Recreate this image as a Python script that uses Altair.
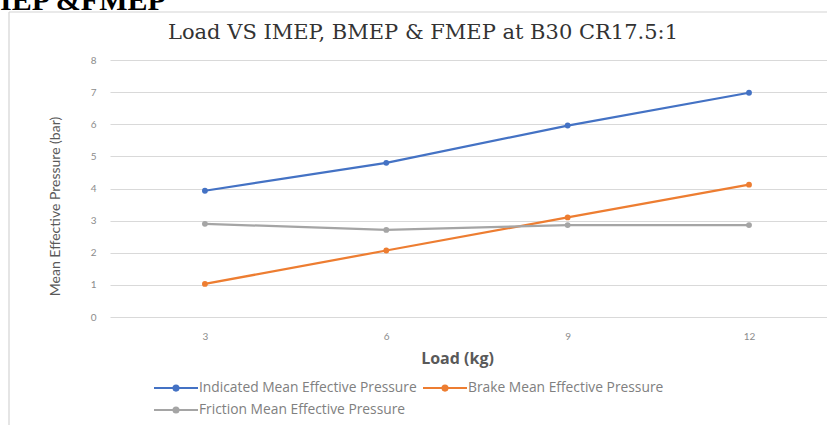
import altair as alt
import pandas as pd

# Engine test data: load on the brake drum vs. mean effective pressures
load_kg = [3, 6, 9, 12]
imep_bar = [3.93, 4.80, 5.96, 6.98]
bmep_bar = [1.03, 2.07, 3.10, 4.12]
fmep_bar = [2.90, 2.71, 2.86, 2.86]
y_ticks = [0, 1, 2, 3, 4, 5, 6, 7, 8]

series_names = [
    "Indicated Mean Effective Pressure",
    "Brake Mean Effective Pressure",
    "Friction Mean Effective Pressure",
]
series_colors = ["#4472C4", "#ED7D31", "#A5A5A5"]

chart_title = "Load VS IMEP, BMEP & FMEP at B30 CR17.5:1"
heading = "IEP &FMEP"

rows = []
for name, vals in zip(series_names, [imep_bar, bmep_bar, fmep_bar]):
    for x, v in zip(load_kg, vals):
        rows.append({"Load": x, "MEP": v, "Series": name})
df = pd.DataFrame(rows)

W, H = 717, 257
PAD = {"left": 110, "top": 60, "right": 0, "bottom": 108}
SANS = "Lato"
WIDE_SANS = "Open Sans"

# legend glyph: a line twice as wide as the symbol box with a dot at its middle
# (dot drawn as concentric rings so it takes the series stroke colour)
legend_glyph = (
    "M-1,0H3"
    "M0.95,0A0.05,0.05 0 1,0 1.05,0A0.05,0.05 0 1,0 0.95,0"
    "M0.86,0A0.14,0.14 0 1,0 1.14,0A0.14,0.14 0 1,0 0.86,0"
    "M0.77,0A0.23,0.23 0 1,0 1.23,0A0.23,0.23 0 1,0 0.77,0"
)

lines = (
    alt.Chart(df)
    .mark_line(strokeWidth=2.25, point=alt.OverlayMarkDef(filled=True, size=34))
    .encode(
        x=alt.X(
            "Load:Q",
            scale=alt.Scale(domain=[1.43, 13.29], nice=False, zero=False),
            axis=alt.Axis(
                values=load_kg,
                title="Load (kg)",
                grid=False,
                domain=False,
                ticks=False,
                labelPadding=14,
                labelFontSize=10,
                labelColor="#8c8c8c",
                labelFont=SANS,
                titleFont=WIDE_SANS,
                titleFontSize=16,
                titleFontWeight="bold",
                titleColor="#595959",
                titleX=347,
                titleY=41,
                titleAlign="center",
                titleBaseline="middle",
            ),
        ),
        y=alt.Y(
            "MEP:Q",
            scale=alt.Scale(domain=[0, 8], nice=False),
            axis=alt.Axis(
                values=y_ticks,
                title="Mean Effective Pressure  (bar)",
                grid=True,
                gridColor="#d9d9d9",
                gridWidth=1,
                domain=False,
                ticks=False,
                labelPadding=14,
                labelFontSize=10,
                labelColor="#8c8c8c",
                labelFont=SANS,
                titleFont=SANS,
                titleFontSize=14,
                titleFontWeight="normal",
                titleColor="#595959",
                titleAngle=270,
                titleX=-55,
                titleY=146,
                titleAlign="center",
                titleBaseline="middle",
            ),
        ),
        color=alt.Color(
            "Series:N",
            sort=series_names,
            scale=alt.Scale(domain=series_names, range=series_colors),
            legend=alt.Legend(
                orient="none",
                legendX=43,
                legendY=316,
                direction="horizontal",
                columns=2,
                title=None,
                symbolType=legend_glyph,
                symbolSize=484,
                symbolStrokeWidth=2,
                labelFont=WIDE_SANS,
                labelFontSize=13.8,
                labelColor="#808080",
                labelLimit=400,
                labelOffset=22,
                columnPadding=2,
                rowPadding=3,
                padding=0,
            ),
        ),
    )
)

one = pd.DataFrame({"k": [0]})

frame_v = alt.Chart(one).mark_rule(color="#d4d4d4", strokeWidth=1.2).encode(
    x=alt.value(-101), y=alt.value(-48), y2=alt.value(H + PAD["bottom"])
)
frame_h = alt.Chart(one).mark_rule(color="#d4d4d4", strokeWidth=1.2).encode(
    y=alt.value(-48), x=alt.value(-101), x2=alt.value(W)
)

title_text = alt.Chart(pd.DataFrame({"t": [chart_title]})).mark_text(
    font="DejaVu Serif", fontSize=21, color="#333333", align="center", baseline="middle"
).encode(text="t:N", x=alt.value(313), y=alt.value(-27))

heading_text = alt.Chart(pd.DataFrame({"t": [heading]})).mark_text(
    font="Liberation Serif", fontSize=30, fontWeight="bold", color="#000000",
    align="left", baseline="alphabetic"
).encode(text="t:N", x=alt.value(-110), y=alt.value(-50))

chart = (
    alt.layer(frame_v, frame_h, title_text, heading_text, lines)
    .properties(
        width=W,
        height=H,
        autosize=alt.AutoSizeParams(type="none"),
        padding=PAD,
        background="white",
    )
    .configure_view(stroke=None)
)

chart.save("out.html", embed_options={"renderer": "svg", "actions": False})
